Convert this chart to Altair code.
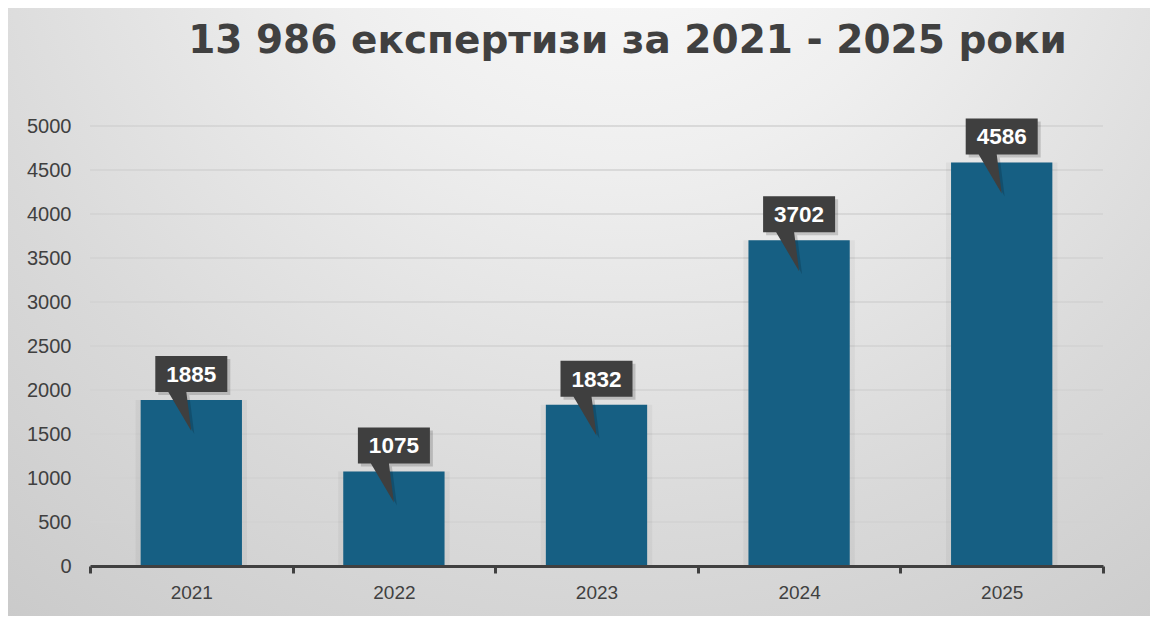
import altair as alt
import pandas as pd

years = ["2021", "2022", "2023", "2024", "2025"]
values = [1885, 1075, 1832, 3702, 4586]
y_ticks = [0, 500, 1000, 1500, 2000, 2500, 3000, 3500, 4000, 4500, 5000]
title_text = "13 986 експертизи за 2021 - 2025 роки"

df = pd.DataFrame({"year": years, "value": values})
grid_df = pd.DataFrame({"value": y_ticks})

W, H = 1013, 440
PL, PT, PR, PB = 82, 118, 47, 50

x_enc = alt.X("year:N", sort=years,
              scale=alt.Scale(paddingInner=0, paddingOuter=0),
              axis=alt.Axis(title=None, labelAngle=0, tickBand="extent",
                            ticks=True, tickSize=7, tickWidth=3, tickColor="#404040",
                            domainColor="#404040", domainWidth=3,
                            labelFont="Liberation Sans", labelFontSize=19,
                            labelColor="#404040", labelPadding=10, zindex=1))
y_enc = alt.Y("value:Q", scale=alt.Scale(domain=[0, 5000], nice=False),
              axis=alt.Axis(title=None, values=y_ticks, format="d", grid=False,
                            domain=False, ticks=False,
                            labelFont="Liberation Sans", labelFontSize=20,
                            labelColor="#404040", labelPadding=19, zindex=1))

bg = alt.Chart(alt.Data(values=[{}])).mark_rect(
    color={"gradient": "radial", "x1": 0.54, "y1": 0.08, "r1": 0,
           "x2": 0.54, "y2": 0.08, "r2": 0.95,
           "stops": [{"offset": 0, "color": "#fdfdfd"},
                     {"offset": 0.3, "color": "#efefef"},
                     {"offset": 0.65, "color": "#d9d9d9"},
                     {"offset": 1, "color": "#c6c6c6"}]}
).encode(x=alt.value(-PL), x2=alt.value(W + PR), y=alt.value(-PT), y2=alt.value(H + PB))

grid = alt.Chart(grid_df).mark_rule(color="#d2d2d2", strokeWidth=1.5).encode(y=y_enc)

bar_shadow = alt.Chart(df).mark_bar(width=alt.RelativeBandSize(0.55), color="#000000",
                                   opacity=0.04).encode(x=x_enc, y=y_enc)

bars = alt.Chart(df).mark_bar(width=alt.RelativeBandSize(0.5), color="#165f83").encode(
    x=x_enc, y=y_enc)

callout_path = "M-0.6,-0.3L0.6,-0.3L0.6,0.3L-0.083,0.3L0,0.95L-0.383,0.3L-0.6,0.3Z"

callout_shadow = alt.Chart(df).mark_point(shape=callout_path, size=14400, filled=True,
                                          color="#000000", opacity=0.16,
                                          xOffset=3, yOffset=-23).encode(x=x_enc, y=y_enc)

callout = alt.Chart(df).mark_point(shape=callout_path, size=14400, filled=True,
                                   color="#3f3f3f", opacity=1, yOffset=-26).encode(
    x=x_enc, y=y_enc)

labels = alt.Chart(df).mark_text(color="#ffffff", font="Liberation Sans", fontSize=22.5,
                                 fontWeight="bold", baseline="middle", yOffset=-25).encode(
    x=x_enc, y=y_enc, text="value:Q")

chart = alt.layer(bg, grid, bar_shadow, bars, callout_shadow, callout, labels).properties(
    width=W, height=H,
    autosize=alt.AutoSizeParams(type="none"),
    padding={"left": PL, "top": PT, "right": PR, "bottom": PB},
    title=alt.TitleParams(title_text, font="DejaVu Sans", fontSize=39, fontWeight="bold",
                          color="#404040", anchor="middle", frame="group", dx=31,
                          offset=-84, baseline="alphabetic", zindex=1, limit=2000)
).configure_view(stroke=None).configure(background="#d6d6d6")

chart.save("out.html", embed_options={"renderer": "svg", "actions": False})
